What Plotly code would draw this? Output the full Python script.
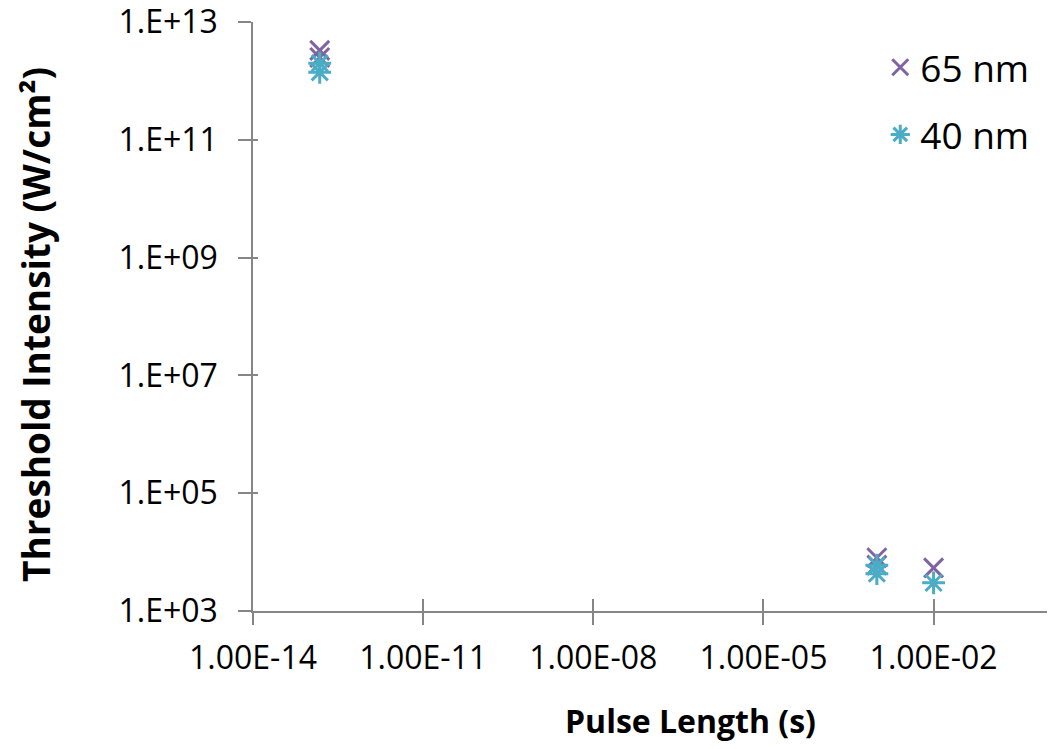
import plotly.graph_objects as go

# Data
pulse_65 = [1.5e-13, 1.5e-13, 1e-3, 1e-3, 1e-2]
thr_65 = [3.3e12, 2.5e12, 8.0e3, 6.0e3, 5.4e3]
pulse_40 = [1.5e-13, 1.5e-13, 1e-3, 1e-3, 1e-2]
thr_40 = [2.0e12, 1.4e12, 6.0e3, 4.3e3, 3.0e3]

x_tickvals = [1e-14, 1e-11, 1e-8, 1e-5, 1e-2]
x_ticktext = ["1.00E-14", "1.00E-11", "1.00E-08", "1.00E-05", "1.00E-02"]
y_tickvals = [1e3, 1e5, 1e7, 1e9, 1e11, 1e13]
y_ticktext = ["1.E+03", "1.E+05", "1.E+07", "1.E+09", "1.E+11", "1.E+13"]

FONT = "Open Sans"
PURPLE = "#8064A2"
CYAN = "#4BACC6"
AXIS = "#868686"

fig = go.Figure()
fig.add_trace(go.Scatter(
    x=pulse_65, y=thr_65, mode="markers", name="65 nm", legendgroup="a",
    marker=dict(symbol="x-thin-open", size=19, color=PURPLE,
                line=dict(color=PURPLE, width=3)),
))
fig.add_trace(go.Scatter(
    x=pulse_40, y=thr_40, mode="markers", name="40 nm", legendgroup="b",
    marker=dict(symbol="asterisk-open", size=19, color=CYAN,
                line=dict(color=CYAN, width=3)),
))

common_x = dict(type="log", range=[-14.0005, 0], showgrid=False, zeroline=False, automargin=False)
common_y = dict(type="log", range=[2.9995, 13.0005], showgrid=False, zeroline=False, automargin=False)

fig.update_layout(
    width=1056, height=749,
    margin=dict(l=253, r=9, t=22, b=138),
    paper_bgcolor="white", plot_bgcolor="white",
    font=dict(family=FONT, color="black", size=32),
    showlegend=True,
    legend=dict(x=0.79, y=0.975, xanchor="left", yanchor="top",
                font=dict(size=37, family=FONT),
                traceorder="grouped", tracegroupgap=16,
                bgcolor="rgba(0,0,0,0)"),
    xaxis=dict(**common_x, showline=True, linecolor=AXIS, linewidth=1.5,
               ticks="outside", ticklen=12, tickwidth=1.5, tickcolor=AXIS,
               tickvals=x_tickvals, ticktext=x_ticktext, ticklabeloverflow="allow",
               tickfont=dict(size=32, family=FONT), ticklabelstandoff=6),
    yaxis=dict(**common_y, showline=True, linecolor=AXIS, linewidth=1.5,
               ticks="outside", ticklen=13, tickwidth=1.5, tickcolor=AXIS,
               tickvals=y_tickvals, ticktext=y_ticktext, ticklabeloverflow="allow",
               tickfont=dict(size=32, family=FONT), ticklabelstandoff=14),
    xaxis2=dict(**common_x, overlaying="x", matches="x", anchor="y2",
                ticks="inside", ticklen=12, tickwidth=1.5, tickcolor=AXIS,
                tickvals=x_tickvals, showticklabels=False, showline=False),
    yaxis2=dict(**common_y, overlaying="y", matches="y", anchor="x2",
                ticks="inside", ticklen=5, tickwidth=1.5, tickcolor=AXIS,
                tickvals=y_tickvals, showticklabels=False, showline=False),
)

# invisible trace to activate overlay axes
fig.add_trace(go.Scatter(x=[1e-14], y=[1e3], xaxis="x2", yaxis="y2",
                         mode="markers", marker=dict(opacity=0),
                         showlegend=False, hoverinfo="skip"))

fig.add_annotation(text="<b>Pulse Length (s)</b>", xref="paper", yref="paper",
                   x=(690 - 253) / 794, y=-(720 - 611) / 589,
                   xanchor="center", yanchor="middle", showarrow=False,
                   font=dict(size=32, family=FONT))
fig.add_annotation(text="<b>Threshold Intensity (W/cm²)</b>", xref="paper", yref="paper",
                   x=-(253 - 35) / 794, y=1 - (325 - 22) / 589, textangle=-90,
                   xanchor="center", yanchor="middle", showarrow=False,
                   font=dict(size=37, family=FONT))

fig.write_html("out.html", config={"displayModeBar": False},
               post_script="document.body.style.margin='0';")
